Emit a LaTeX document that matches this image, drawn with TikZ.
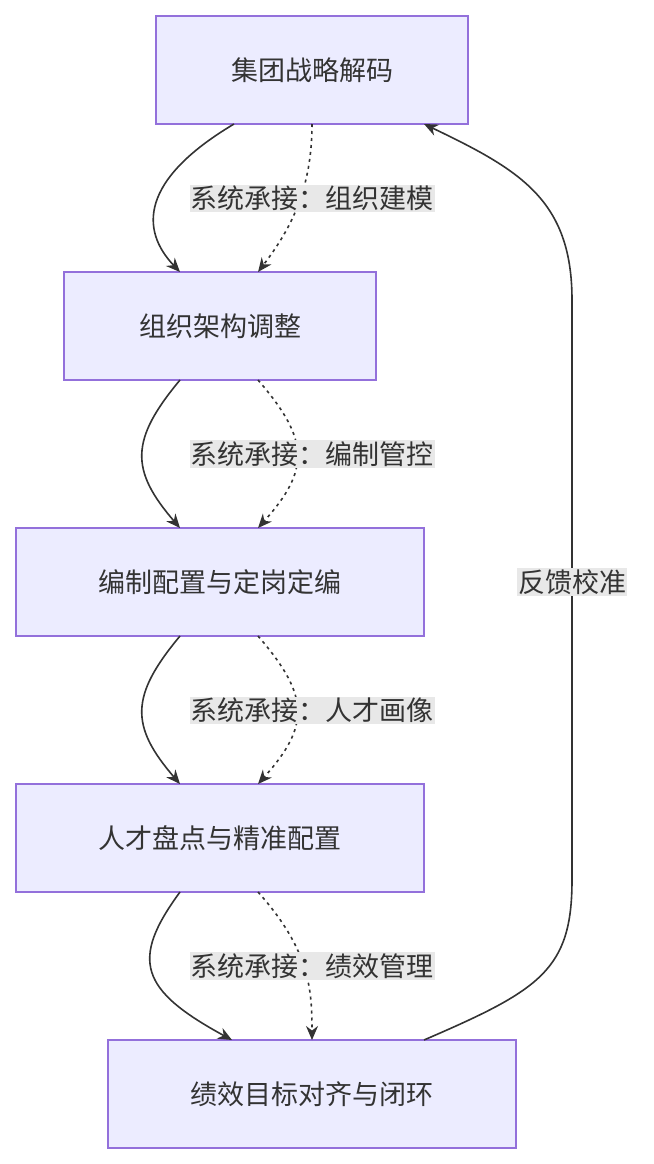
\documentclass[tikz,border=0pt]{standalone}
\usepackage{fontspec}
\setmainfont{Noto Sans CJK SC}
\usetikzlibrary{arrows.meta}
\definecolor{boxfill}{HTML}{ECECFF}
\definecolor{boxline}{HTML}{9370DB}
\definecolor{edgeline}{HTML}{333333}
\definecolor{lblfill}{HTML}{E8E8E8}
\tikzset{
  stage/.style = {draw = boxline, fill = boxfill, line width = 1.3pt, text = edgeline,
    minimum height = 108pt, font = \fontsize{27}{32}\selectfont},
  flow/.style = {draw = edgeline, line width = 1.6pt, -{Stealth[length = 14pt, width = 12pt]}},
  sync/.style = {flow, dash pattern = on 3pt off 4pt},
  tag/.style = {fill = lblfill, text = edgeline, inner sep = 1pt, font = \fontsize{27}{32}\selectfont}
}
\begin{document}
\begin{tikzpicture}[x = 1pt, y = -1pt]
		\useasboundingbox (0, 0) rectangle (653, 1164);
		\node [stage, minimum width = 312pt] (decode) at (312, 70) {集团战略解码};
		\node [stage, minimum width = 312pt] (org) at (220, 326) {组织架构调整};
		\node [stage, minimum width = 408pt] (quota) at (220, 582) {编制配置与定岗定编};
		\node [stage, minimum width = 408pt] (talent) at (220, 838) {人才盘点与精准配置};
		\node [stage, minimum width = 408pt] (perf) at (312, 1094) {绩效目标对齐与闭环};
		\coordinate (d1) at (234, 124); \coordinate (d2) at (312, 124);
		\coordinate (o1) at (180, 272); \coordinate (o2) at (258, 272);
		\coordinate (o3) at (180, 380); \coordinate (o4) at (258, 380);
		\coordinate (q1) at (180, 528); \coordinate (q2) at (258, 528);
		\coordinate (q3) at (180, 636); \coordinate (q4) at (258, 636);
		\coordinate (t1) at (180, 784); \coordinate (t2) at (258, 784);
		\coordinate (t3) at (180, 892); \coordinate (t4) at (258, 892);
		\coordinate (p1) at (232, 1040); \coordinate (p2) at (312, 1040);
		\coordinate (p3) at (424, 1040); \coordinate (d3) at (424, 124);
		% solid and dotted hand-overs
		\draw [flow] (d1) .. controls (140, 180) and (140, 230) .. (o1);
		\draw [sync] (d2) .. controls (312, 190) and (290, 230) .. (o2);
		\draw [flow] (o3) .. controls (130, 440) and (130, 470) .. (q1);
		\draw [sync] (o4) .. controls (310, 440) and (310, 470) .. (q2);
		\draw [flow] (q3) .. controls (130, 696) and (130, 726) .. (t1);
		\draw [sync] (q4) .. controls (310, 696) and (310, 726) .. (t2);
		\draw [flow] (t3) .. controls (130, 960) and (140, 990) .. (p1);
		\draw [sync] (t4) .. controls (310, 950) and (312, 990) .. (p2);
		\draw [flow] (p3) .. controls (540, 990) and (572, 970) .. (572, 880)
			-- (572, 300) .. controls (572, 200) and (520, 170) .. (d3);
		\node [tag] (l1) at (312, 198) {系统承接：组织建模};
		\node [tag] (l2) at (312, 454) {系统承接：编制管控};
		\node [tag] (l3) at (312, 710) {系统承接：人才画像};
		\node [tag] (l4) at (312, 966) {系统承接：绩效管理};
		\node [tag] (l5) at (572, 582) {反馈校准};
	\end{tikzpicture}
\end{document}
